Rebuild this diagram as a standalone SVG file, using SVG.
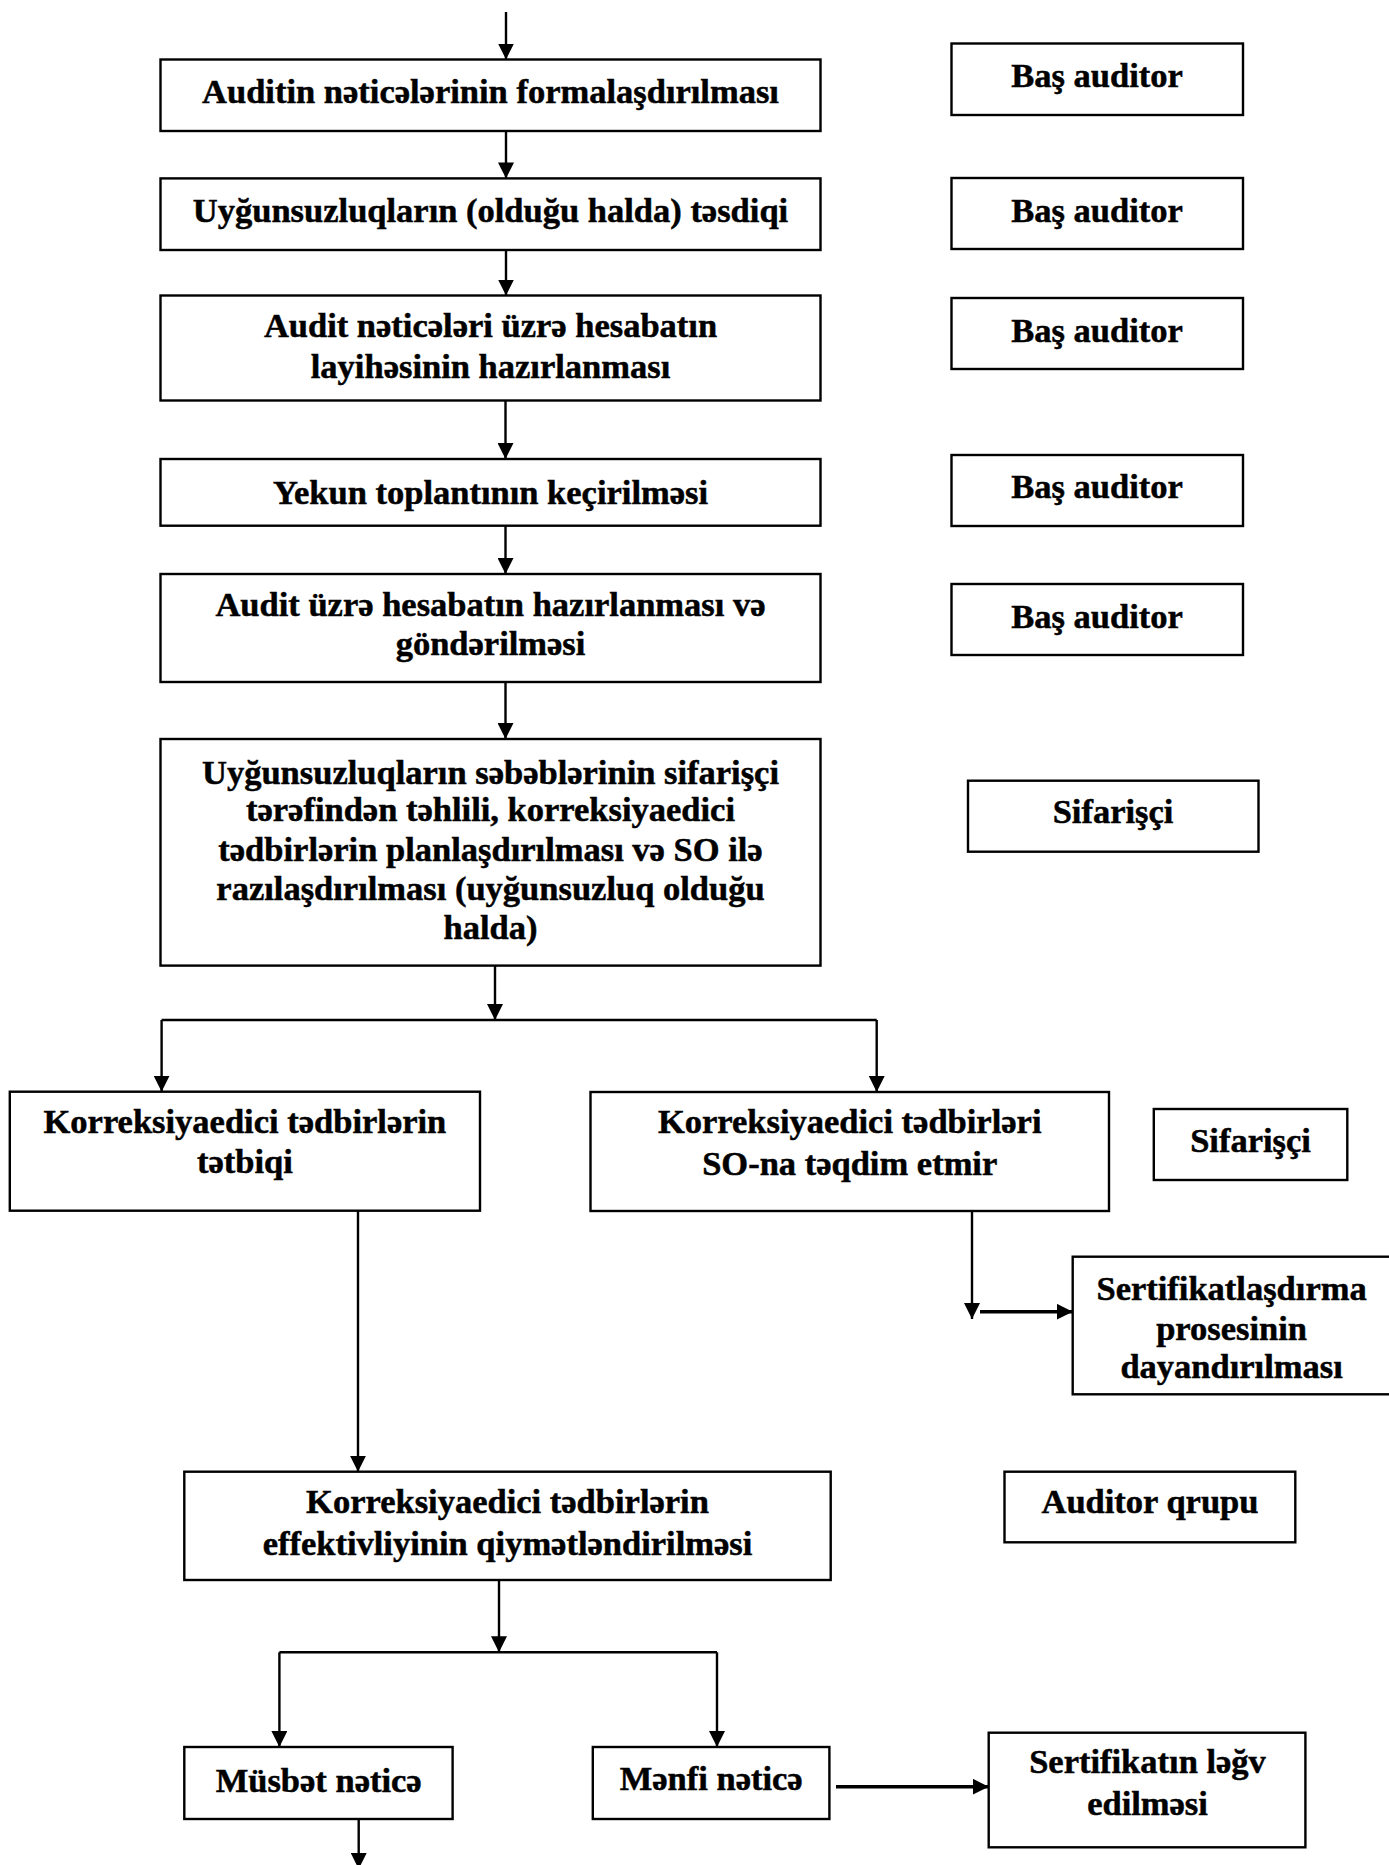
<svg xmlns="http://www.w3.org/2000/svg" width="1389" height="1865" viewBox="0 0 1389 1865">
<style>
.box{fill:#fff;stroke:#000;stroke-width:2.4}
.t{font-family:"Liberation Serif","Times New Roman",serif;font-weight:bold;font-size:34.5px;text-anchor:middle;fill:#000;stroke:#000;stroke-width:0.5}
.c{fill:none;stroke:#000;stroke-width:2.4}
.ca{fill:none;stroke:#000;stroke-width:2.4;marker-end:url(#ah)}
.cb{fill:none;stroke:#000;stroke-width:3.4;marker-end:url(#ah)}
</style>
<defs>
<marker id="ah" markerUnits="userSpaceOnUse" markerWidth="16" markerHeight="16" refX="16" refY="8" orient="auto">
<path d="M0,0 L16,8 L0,16 Z" fill="#000"/>
</marker>
</defs>
<rect width="1389" height="1865" fill="#fff"/>

<g id="connectors">
<path class="ca" d="M506,12 V59.5"/>
<path class="ca" d="M506,131 V178.4"/>
<path class="ca" d="M506,250 V295.5"/>
<path class="ca" d="M505.5,400.5 V459"/>
<path class="ca" d="M505.5,525.7 V574"/>
<path class="ca" d="M505.5,682 V739"/>
<path class="ca" d="M495,965.6 V1020"/>
<path class="c" d="M161.6,1020 H876.7"/>
<path class="ca" d="M161.6,1020 V1091.7"/>
<path class="ca" d="M876.7,1020 V1092"/>
<path class="ca" d="M358,1210.7 V1471.7"/>
<path class="ca" d="M972,1211 V1319"/>
<path class="cb" d="M980,1311.7 H1072.7"/>
<path class="ca" d="M499,1580 V1652.3"/>
<path class="c" d="M279.4,1652.3 H717"/>
<path class="ca" d="M279.4,1652.3 V1747"/>
<path class="ca" d="M717,1652.3 V1747"/>
<path class="ca" d="M358.7,1819 V1869"/>
<path class="cb" d="M836,1786.7 H988.7"/>
</g>

<g id="n1"><rect class="box" x="160.5" y="59.5" width="660" height="71.5"/><text class="t" x="490.5" y="103.3">Auditin nəticələrinin formalaşdırılması</text></g>
<g id="n2"><rect class="box" x="160.5" y="178.4" width="660" height="71.6"/><text class="t" x="490.5" y="221.7">Uyğunsuzluqların (olduğu halda) təsdiqi</text></g>
<g id="n3"><rect class="box" x="160.5" y="295.5" width="660" height="105"/><text class="t" x="490.5" y="336.7">Audit nəticələri üzrə hesabatın</text><text class="t" x="490.5" y="378.3">layihəsinin hazırlanması</text></g>
<g id="n4"><rect class="box" x="160.5" y="459" width="660" height="66.7"/><text class="t" x="490.5" y="503.6">Yekun toplantının keçirilməsi</text></g>
<g id="n5"><rect class="box" x="160.5" y="574" width="660" height="108"/><text class="t" x="490.5" y="616">Audit üzrə hesabatın hazırlanması və</text><text class="t" x="490.5" y="655">göndərilməsi</text></g>
<g id="n6"><rect class="box" x="160.5" y="739" width="660" height="226.6"/>
<text class="t" x="490.5" y="784">Uyğunsuzluqların səbəblərinin sifarişçi</text>
<text class="t" x="490.5" y="821.4">tərəfindən təhlili, korreksiyaedici</text>
<text class="t" x="490.5" y="860.7">tədbirlərin planlaşdırılması və SO ilə</text>
<text class="t" x="490.5" y="900">razılaşdırılması (uyğunsuzluq olduğu</text>
<text class="t" x="490.5" y="939.3">halda)</text></g>

<g id="r1"><rect class="box" x="951.5" y="43.5" width="291.5" height="71.5"/><text class="t" x="1097" y="86.7">Baş auditor</text></g>
<g id="r2"><rect class="box" x="951.5" y="178" width="291.5" height="71"/><text class="t" x="1097" y="221.7">Baş auditor</text></g>
<g id="r3"><rect class="box" x="951.5" y="298" width="291.5" height="71"/><text class="t" x="1097" y="341.7">Baş auditor</text></g>
<g id="r4"><rect class="box" x="951.5" y="455" width="291.5" height="71"/><text class="t" x="1097" y="498.3">Baş auditor</text></g>
<g id="r5"><rect class="box" x="951.5" y="584" width="291.5" height="71"/><text class="t" x="1097" y="628.3">Baş auditor</text></g>
<g id="r6"><rect class="box" x="968" y="780.7" width="290.5" height="71"/><text class="t" x="1113" y="823.3">Sifarişçi</text></g>

<g id="n7"><rect class="box" x="9.8" y="1091.7" width="470.2" height="119"/><text class="t" x="244.9" y="1133.3">Korreksiyaedici tədbirlərin</text><text class="t" x="244.9" y="1173.3">tətbiqi</text></g>
<g id="n8"><rect class="box" x="590.5" y="1092" width="518.5" height="119"/><text class="t" x="849.7" y="1133.3">Korreksiyaedici tədbirləri</text><text class="t" x="849.7" y="1175">SO-na təqdim etmir</text></g>
<g id="r7"><rect class="box" x="1153.8" y="1109" width="193.5" height="71"/><text class="t" x="1250.5" y="1151.7">Sifarişçi</text></g>
<g id="n9"><rect class="box" x="1072.7" y="1256.7" width="330" height="137.6"/><text class="t" x="1231.6" y="1300">Sertifikatlaşdırma</text><text class="t" x="1231.6" y="1340">prosesinin</text><text class="t" x="1231.6" y="1378.3">dayandırılması</text></g>

<g id="n10"><rect class="box" x="184.3" y="1471.7" width="646.4" height="108.3"/><text class="t" x="507.5" y="1513.3">Korreksiyaedici tədbirlərin</text><text class="t" x="507.5" y="1555">effektivliyinin qiymətləndirilməsi</text></g>
<g id="r8"><rect class="box" x="1004.5" y="1471.7" width="290.8" height="70.6"/><text class="t" x="1150" y="1513.3">Auditor qrupu</text></g>
<g id="n11"><rect class="box" x="184.3" y="1747" width="268.3" height="72"/><text class="t" x="318.7" y="1791.7">Müsbət nəticə</text></g>
<g id="n12"><rect class="box" x="592.8" y="1747" width="236.6" height="72"/><text class="t" x="711.2" y="1790">Mənfi nəticə</text></g>
<g id="n13"><rect class="box" x="988.7" y="1732.7" width="316.7" height="114.6"/><text class="t" x="1147.5" y="1773.3">Sertifikatın ləğv</text><text class="t" x="1147.5" y="1815">edilməsi</text></g>
</svg>
